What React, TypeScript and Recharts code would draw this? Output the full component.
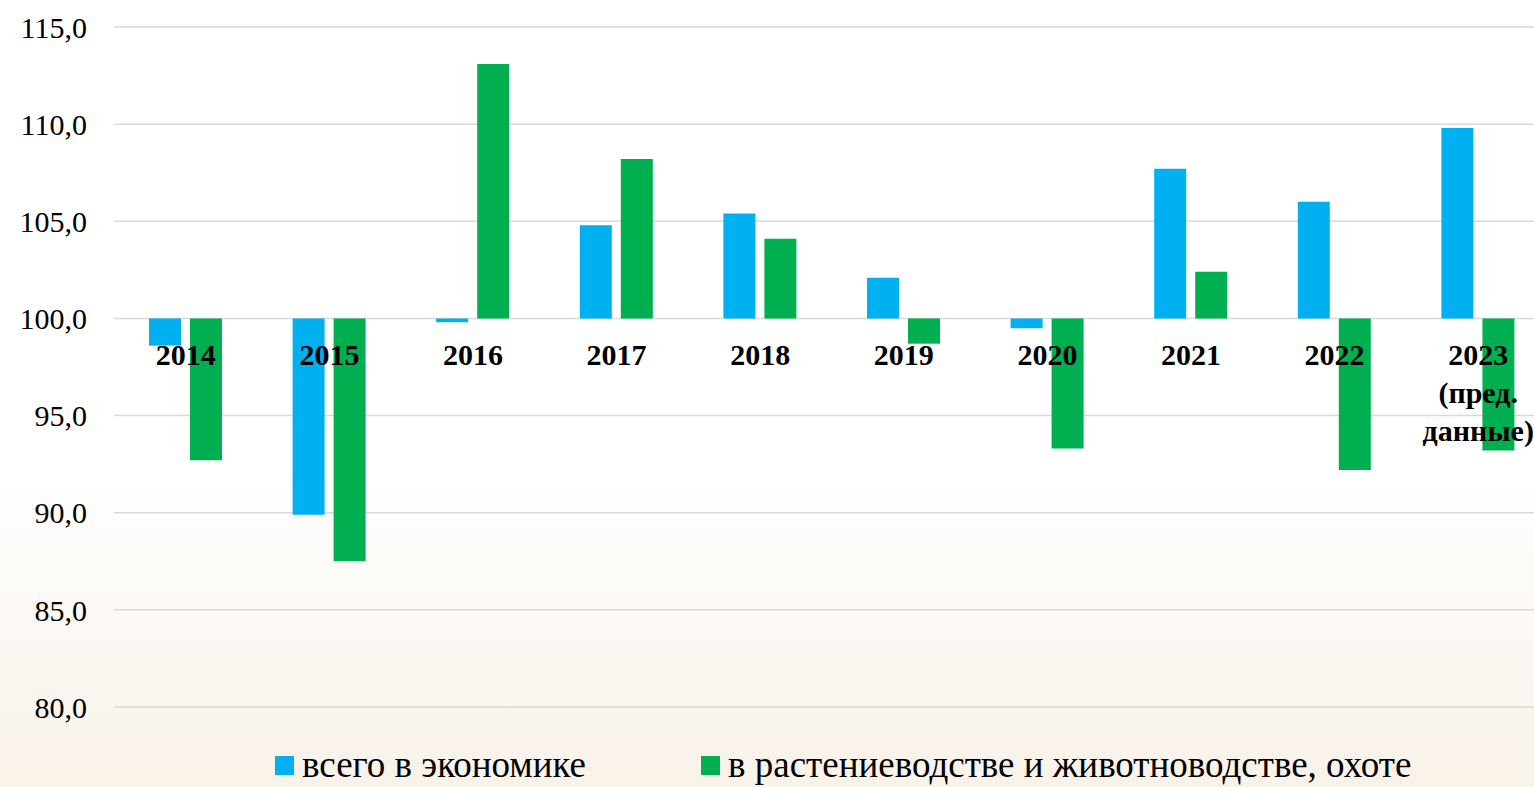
import { BarChart, Bar, XAxis, YAxis, CartesianGrid } from "recharts";

const YEARS = ["2014", "2015", "2016", "2017", "2018", "2019", "2020", "2021", "2022", "2023 (пред. данные)"];
const ECONOMY = [98.6, 89.9, 99.8, 104.8, 105.4, 102.1, 99.5, 107.7, 106.0, 109.8];
const AGRO = [92.7, 87.5, 113.1, 108.2, 104.1, 98.7, 93.3, 102.4, 92.2, 93.2];
const Y_TICKS = [80, 85, 90, 95, 100, 105, 110, 115];
const BASE = 100;

const SERIES = [
  { key: "economy", name: "всего в экономике", color: "#00b0f0" },
  { key: "agro", name: "в растениеводстве и животноводстве, охоте", color: "#00b050" },
];

const FONT = '"Liberation Serif", "Times New Roman", serif';
const Y_MIN = 80;
const Y_MAX = 115;
const TOP = 27;
const BOTTOM = 80;
const HEIGHT = 787;
const PLOT_H = HEIGHT - TOP - BOTTOM;

// bars start at 100, so each one is a [low, high] range
const data = YEARS.map((year, i) => ({
  year,
  economy: [Math.min(BASE, ECONOMY[i]), Math.max(BASE, ECONOMY[i])],
  agro: [Math.min(BASE, AGRO[i]), Math.max(BASE, AGRO[i])],
}));

const fmt = (v: number) => v.toFixed(1).replace(".", ",");

// category labels sit just under the 100 line, not at the bottom of the plot
function YearTick(props: any) {
  const { x, y, payload } = props;
  const lift = (PLOT_H * (BASE - Y_MIN)) / (Y_MAX - Y_MIN);
  const lines = String(payload.value).split(" ");
  return (
    <text
      x={x}
      y={y - lift + 47}
      textAnchor="middle"
      style={{ fontFamily: FONT, fontSize: 30, fontWeight: "bold" }}
      fill="#000"
    >
      {lines.map((l, i) => (
        <tspan key={i} x={x} dy={i === 0 ? 0 : 38}>
          {l}
        </tspan>
      ))}
    </text>
  );
}

function LegendBox() {
  return (
    <div
      style={{
        position: "absolute",
        left: 275,
        top: 745,
        height: 40,
        lineHeight: "40px",
        display: "flex",
        alignItems: "center",
        fontFamily: FONT,
        fontSize: 37,
        color: "#000",
        whiteSpace: "nowrap",
      }}
    >
      {SERIES.map((s, i) => (
        <div key={s.key} style={{ display: "flex", alignItems: "center", marginRight: i === 0 ? 115 : 0 }}>
          <span style={{ display: "inline-block", width: 19, height: 19, background: s.color, marginRight: 8 }} />
          <span>{s.name}</span>
        </div>
      ))}
    </div>
  );
}

export default function App() {
  return (
    <div
      style={{
        position: "absolute",
        left: 0,
        top: 0,
        width: 1534,
        height: HEIGHT,
        overflow: "hidden",
        fontFamily: FONT,
        background: "linear-gradient(180deg, #ffffff 0%, #ffffff 60%, #f8f2e8 100%)",
      }}
    >
      <BarChart
        width={1560}
        height={HEIGHT}
        data={data}
        margin={{ top: TOP, right: 10, bottom: BOTTOM - 1, left: 0 }}
        barSize={32}
        barGap={9}
        style={{ fontFamily: FONT }}
      >
        <CartesianGrid vertical={false} stroke="#d9d9d9" strokeWidth={1.5} />
        <YAxis
          domain={[Y_MIN, Y_MAX]}
          ticks={Y_TICKS}
          tickFormatter={fmt}
          axisLine={false}
          tickLine={false}
          tickSize={0}
          tickMargin={27}
          width={114}
          tick={{ fontSize: 30, fill: "#000", style: { fontFamily: FONT } }}
          allowDataOverflow
        />
        {SERIES.map((s) => (
          <Bar key={s.key} dataKey={s.key} name={s.name} fill={s.color} isAnimationActive={false} />
        ))}
        <XAxis
          dataKey="year"
          axisLine={false}
          tickLine={false}
          tickSize={0}
          tickMargin={0}
          height={1}
          interval={0}
          tick={(p: any) => <YearTick {...p} />}
        />
      </BarChart>
      <LegendBox />
    </div>
  );
}
